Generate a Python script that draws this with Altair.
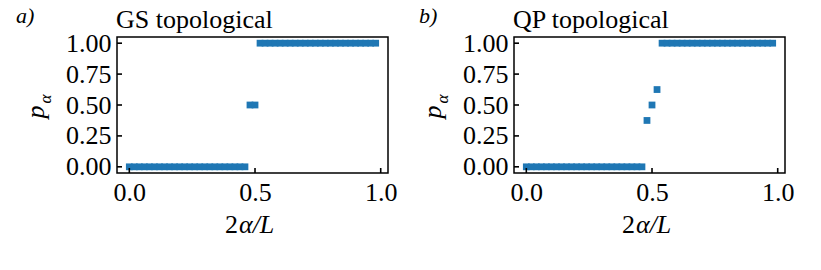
import altair as alt
import pandas as pd

# ---- data ----
x_vals = [0.00, 0.02, 0.04, 0.06, 0.08, 0.10, 0.12, 0.14, 0.16, 0.18,
          0.20, 0.22, 0.24, 0.26, 0.28, 0.30, 0.32, 0.34, 0.36, 0.38,
          0.40, 0.42, 0.44, 0.46, 0.48, 0.50, 0.52, 0.54, 0.56, 0.58,
          0.60, 0.62, 0.64, 0.66, 0.68, 0.70, 0.72, 0.74, 0.76, 0.78,
          0.80, 0.82, 0.84, 0.86, 0.88, 0.90, 0.92, 0.94, 0.96, 0.98]
p_gs = [0, 0, 0, 0, 0, 0, 0, 0, 0, 0,
        0, 0, 0, 0, 0, 0, 0, 0, 0, 0,
        0, 0, 0, 0, 0.5, 0.5, 1, 1, 1, 1,
        1, 1, 1, 1, 1, 1, 1, 1, 1, 1,
        1, 1, 1, 1, 1, 1, 1, 1, 1, 1]
p_qp = [0, 0, 0, 0, 0, 0, 0, 0, 0, 0,
        0, 0, 0, 0, 0, 0, 0, 0, 0, 0,
        0, 0, 0, 0, 0.375, 0.5, 0.625, 1, 1, 1,
        1, 1, 1, 1, 1, 1, 1, 1, 1, 1,
        1, 1, 1, 1, 1, 1, 1, 1, 1, 1]
x_ticks = [0.0, 0.5, 1.0]
y_ticks = [0.0, 0.25, 0.5, 0.75, 1.0]
panel_titles = ["GS topological", "QP topological"]
panel_tags = ["a)", "b)"]

W, H = 271, 136
FONT = "'Liberation Serif', 'DejaVu Serif', serif"
BLUE = "#1f77b4"
FS = 26

xscale = alt.Scale(domain=[-0.049, 1.029], nice=False, zero=False)
yscale = alt.Scale(domain=[-0.05, 1.05], nice=False, zero=False)


def txt(s, x, y, size=FS, italic=False, align="left", angle=0):
    kw = dict(font=FONT, fontSize=size, color="black", align=align,
              baseline="alphabetic")
    if italic:
        kw["fontStyle"] = "italic"
    if angle:
        kw["angle"] = angle
    return alt.Chart(pd.DataFrame({"s": [s]})).mark_text(**kw).encode(
        text="s:N", x=alt.value(x), y=alt.value(y))


def axis(vals, fmt):
    return alt.Axis(values=vals, format=fmt, title=None, grid=False,
                    ticks=False, tickSize=0, domain=False, labelPadding=6,
                    labelOverlap=False, labelFont=FONT, labelFontSize=FS,
                    labelColor="black")


XAX = axis(x_ticks, ".1f")
YAX = axis(y_ticks, ".2f")


def panel(pvals, title, tag, tagx):
    df = pd.DataFrame({"x": x_vals, "p": pvals})
    pts = alt.Chart(df).mark_square(size=46, color=BLUE, opacity=1).encode(
        x=alt.X("x:Q", scale=xscale, axis=XAX),
        y=alt.Y("p:Q", scale=yscale, axis=YAX),
    )
    xt = alt.Chart(pd.DataFrame({"x": x_ticks})).mark_rule(color="black", strokeWidth=1.6).encode(
        x=alt.X("x:Q", scale=xscale, axis=XAX), y=alt.value(H), y2=alt.value(H - 5))
    yt = alt.Chart(pd.DataFrame({"p": y_ticks})).mark_rule(color="black", strokeWidth=1.6).encode(
        y=alt.Y("p:Q", scale=yscale, axis=YAX), x=alt.value(0), x2=alt.value(5))
    layers = [
        pts, xt, yt,
        txt(title, -1, -9),
        txt(tag, tagx, -14, size=22, italic=True),
        txt("p", -73, 75, italic=True, align="center", angle=270),
        txt("α", -66, 62, size=17, italic=True, align="center", angle=270),
        txt("2", 108, 196),
        txt("α/L", 122, 196, italic=True),
    ]
    return alt.layer(*layers).properties(width=W, height=H)


chart = alt.hconcat(
    panel(p_gs, panel_titles[0], panel_tags[0], -101),
    panel(p_qp, panel_titles[1], panel_tags[1], -95),
    spacing=20,
).properties(
    padding={"left": 7, "top": -4, "right": 5, "bottom": 5}
).configure_view(
    stroke="black", strokeWidth=1.5
).configure_axis(
    labelOverlap=False
)

chart.save("out.html", embed_options={"renderer": "svg", "actions": False})
